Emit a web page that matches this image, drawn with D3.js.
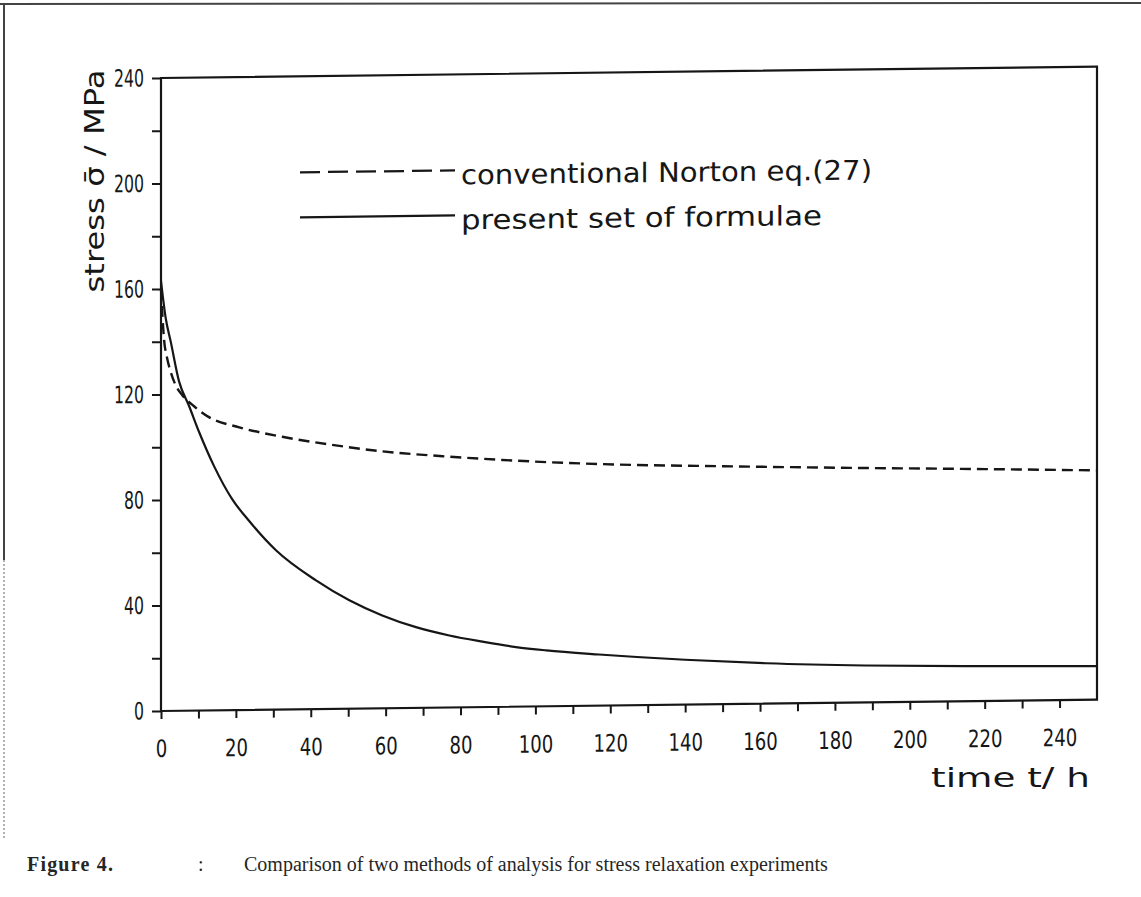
<!DOCTYPE html>
<html>
<head>
<meta charset="utf-8">
<script src="https://cdn.jsdelivr.net/npm/d3@7/dist/d3.min.js"></script>
<style>
    body { margin: 0; background: #fff; }
    svg { display: block; }
</style>
</head>
<body>
<div id="chart"></div>
<script>

//******************************************************************************
//**  Data
//******************************************************************************
var timeNorton   = [0, 0.8, 1.6, 2.6, 3.9, 5.7, 8.4, 12.8, 20.9, 32.4, 44.9, 59.2, 75.2, 91.2, 117, 150, 184, 220, 250];
var stressNorton = [160, 141, 134, 128.5, 123.5, 119.6, 115.9, 111.2, 107.2, 103.4, 100.3, 97.4, 95.3, 93.6, 91.6, 90.2, 89.0, 87.9, 86.9];

var timeFormulae   = [0, 1.25, 2.6, 4.8, 7.5, 10.2, 14.2, 19, 23.5, 30.7, 41.4, 50.3, 59.1, 68.1, 77, 85.9, 94.8, 102.9, 117, 140, 161.7, 188, 220, 250];
var stressFormulae = [163, 149, 140, 125, 115.5, 105.5, 92.5, 80, 71.7, 60.4, 48.8, 41.1, 35.2, 30.6, 27.3, 24.8, 22.6, 21.2, 19.4, 17, 15.3, 14.0, 13.2, 12.7];

var xTicks = [0, 10, 20, 30, 40, 50, 60, 70, 80, 90, 100, 110, 120, 130, 140, 150, 160, 170, 180, 190, 200, 210, 220, 230, 240];
var yTicks = [0, 20, 40, 60, 80, 100, 120, 140, 160, 180, 200, 220, 240];

var legendLabels = ["conventional  Norton eq.(27)", "present set of formulae"];
var xTitle = "time  t/  h";
var yTitle = "stress  \u03C3\u0304  /  MPa";
var caption = ["Figure 4.", ":", "Comparison of two methods of analysis for stress relaxation experiments"];


//******************************************************************************
//**  Chart
//******************************************************************************
var width = 1141, height = 897;
var plot = { left: 161, top: 78, right: 1097, bottom: 711 };
var ink = "#161616";
var plotFont = "'DejaVu Sans', sans-serif";

var svg = d3.select("#chart").append("svg")
    .attr("width", width)
    .attr("height", height);

//scanned page border
svg.append("line")
    .attr("x1", 0).attr("x2", width).attr("y1", 4).attr("y2", 3)
    .attr("stroke", "#444").attr("stroke-width", 2);
svg.append("line")
    .attr("x1", 4).attr("x2", 4).attr("y1", 4).attr("y2", 560)
    .attr("stroke", "#444").attr("stroke-width", 2);
svg.append("line")
    .attr("x1", 4).attr("x2", 4).attr("y1", 560).attr("y2", 840)
    .attr("stroke", "#999").attr("stroke-width", 1.5)
    .attr("stroke-dasharray", "2,2");


//the scan is slightly sheared, so the whole plot leans up to the right
var chart = svg.append("g")
    .attr("transform", "translate(" + plot.left + ",0) skewY(-0.7) translate(" + (-plot.left) + ",0)");

var x = d3.scaleLinear()
    .domain([0, 250])
    .range([plot.left, plot.right]);

var y = d3.scaleLinear()
    .domain([0, 240])
    .range([plot.bottom, plot.top]);


//frame
chart.append("rect")
    .attr("x", plot.left)
    .attr("y", plot.top)
    .attr("width", plot.right - plot.left)
    .attr("height", plot.bottom - plot.top)
    .attr("fill", "none")
    .attr("stroke", ink)
    .attr("stroke-width", 2.2);


//x axis
var xAxis = chart.append("g")
    .attr("transform", "translate(0," + plot.bottom + ")")
    .call(d3.axisBottom(x)
        .tickValues(xTicks)
        .tickSize(8)
        .tickPadding(21)
        .tickFormat(function(d){ return d % 20 === 0 ? d : ""; }));

//y axis
var yAxis = chart.append("g")
    .attr("transform", "translate(" + plot.left + ",0)")
    .call(d3.axisLeft(y)
        .tickValues(yTicks)
        .tickSize(9)
        .tickPadding(8)
        .tickFormat(function(d){ return d % 40 === 0 ? d : ""; }));

[xAxis, yAxis].forEach(function(axis, i){
    var digit = i === 0 ? 11.5 : 10;
    axis.select(".domain").remove();
    axis.selectAll(".tick line")
        .attr("stroke", ink)
        .attr("stroke-width", 2);
    axis.selectAll(".tick text")
        .attr("fill", ink)
        .style("font-family", plotFont)
        .style("font-size", "24px")
        .each(function(d){
            var s = d3.select(this).text();
            if (s.length) d3.select(this)
                .attr("textLength", s.length * digit)
                .attr("lengthAdjust", "spacingAndGlyphs");
        });
});


//curves
var line = d3.line()
    .x(function(d){ return x(d[0]); })
    .y(function(d){ return y(d[1]); })
    .curve(d3.curveMonotoneX);

var nortonData = d3.zip(timeNorton, stressNorton);
var formulaeData = d3.zip(timeFormulae, stressFormulae);

chart.append("path")
    .datum(formulaeData)
    .attr("d", line)
    .attr("fill", "none")
    .attr("stroke", ink)
    .attr("stroke-width", 2.2);

chart.append("path")
    .datum(nortonData)
    .attr("d", line)
    .attr("fill", "none")
    .attr("stroke", ink)
    .attr("stroke-width", 2.4)
    .attr("stroke-dasharray", "11,6");


//legend
var legend = chart.append("g");
var legendRows = [
    { y: 174, dash: "20,8", label: legendLabels[0], len: 411 },
    { y: 219, dash: null,   label: legendLabels[1], len: 361 }
];
legendRows.forEach(function(r){
    legend.append("line")
        .attr("x1", 300).attr("x2", 455)
        .attr("y1", r.y).attr("y2", r.y)
        .attr("stroke", ink)
        .attr("stroke-width", 2.2)
        .attr("stroke-dasharray", r.dash);
    legend.append("text")
        .attr("x", 461)
        .attr("y", r.y + 14)
        .attr("fill", ink)
        .attr("textLength", r.len)
        .attr("lengthAdjust", "spacingAndGlyphs")
        .style("font-family", plotFont)
        .style("font-size", "27px")
        .text(r.label);
});


//axis titles
svg.append("text")
    .attr("x", 931)
    .attr("y", 787)
    .attr("fill", ink)
    .attr("textLength", 159)
    .attr("lengthAdjust", "spacingAndGlyphs")
    .style("font-family", plotFont)
    .style("font-size", "27px")
    .text(xTitle);

svg.append("text")
    .attr("transform", "translate(104,181) rotate(-90)")
    .attr("text-anchor", "middle")
    .attr("fill", ink)
    .attr("textLength", 223)
    .attr("lengthAdjust", "spacingAndGlyphs")
    .style("font-family", plotFont)
    .style("font-size", "27px")
    .text(yTitle);


//caption
var cap = svg.append("g")
    .style("font-family", "'Liberation Serif', serif")
    .style("font-size", "20px")
    .attr("fill", "#262626");
cap.append("text").attr("x", 27).attr("y", 871)
    .style("font-weight", "bold").style("letter-spacing", "1.2px").text(caption[0]);
cap.append("text").attr("x", 198).attr("y", 871).text(caption[1]);
cap.append("text").attr("x", 244).attr("y", 871).text(caption[2]);

</script>
</body>
</html>
